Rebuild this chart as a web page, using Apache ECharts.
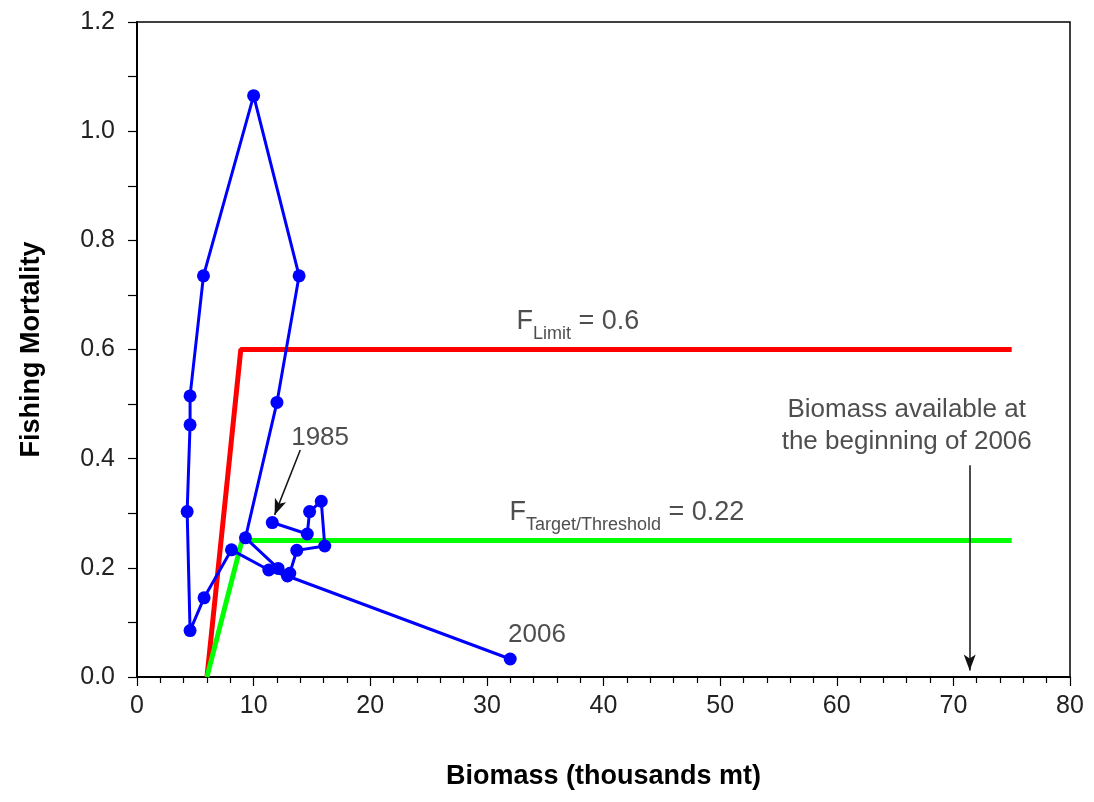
<!DOCTYPE html>
<html>
<head>
<meta charset="utf-8">
<title>Fishing Mortality vs Biomass</title>
<script src="https://cdn.jsdelivr.net/npm/echarts@6/dist/echarts.min.js"></script>
<style>
  html, body { margin: 0; padding: 0; background: #fff; }
  #chart { width: 1094px; height: 802px; }
</style>
</head>
<body>
<div id="chart"></div>
<script>
// biomass (thousands mt) and fishing mortality, 1985 -> 2006
const years = [1985, 1986, 1987, 1988, 1989, 1990, 1991, 1992, 1993, 1994, 1995,
  1996, 1997, 1998, 1999, 2000, 2001, 2002, 2003, 2004, 2005, 2006];
const biomass = [11.6, 14.6, 14.8, 15.8, 16.1, 13.7, 13.1, 12.1, 9.3, 12.0, 13.9,
  10.0, 5.7, 4.55, 4.55, 4.3, 4.55, 5.75, 8.1, 11.3, 12.9, 32.0];
const fMort = [0.283, 0.262, 0.303, 0.322, 0.240, 0.232, 0.190, 0.199, 0.255, 0.503, 0.735,
  1.065, 0.735, 0.515, 0.462, 0.303, 0.085, 0.145, 0.233, 0.196, 0.185, 0.033];

// control rule lines
const limitRule = [[6.0, 0], [8.9, 0.6], [75, 0.6]];
const targetRule = [[6.0, 0], [9.0, 0.25], [75, 0.25]];

// axis ticks
const xTicks = [0, 10, 20, 30, 40, 50, 60, 70, 80];
const yTicks = [0.0, 0.2, 0.4, 0.6, 0.8, 1.0, 1.2];

const bStart = 71.4; // biomass at beginning of 2006

const chart = echarts.init(document.getElementById('chart'));
const font = 'Arial, "Liberation Sans", sans-serif';

// subscript label styles
const subRich = {
  f: { fontFamily: font, fontSize: 27, color: '#222', verticalAlign: 'bottom' },
  s: { fontFamily: font, fontSize: 18, color: '#222', verticalAlign: 'bottom', padding: [0, 0, -8, 0] },
  e: { fontFamily: font, fontSize: 27, color: '#222', verticalAlign: 'bottom' },
};

const option = {
  animation: false,
  grid: {
    left: 137, right: 24, top: 22, bottom: 125,
    show: true, borderColor: '#000', borderWidth: 1.5, backgroundColor: '#fff',
  },
  xAxis: {
    type: 'value',
    min: xTicks[0],
    max: xTicks[xTicks.length - 1],
    interval: 10,
    name: 'Biomass (thousands mt)',
    nameLocation: 'middle',
    nameGap: 86,
    nameTextStyle: { fontFamily: font, fontSize: 27, fontWeight: 'bold', color: '#000' },
    axisLine: { lineStyle: { color: '#000', width: 2 } },
    axisTick: { length: 9, lineStyle: { color: '#000', width: 1.2 } },
    minorTick: { show: true, splitNumber: 5, length: 6, lineStyle: { color: '#000', width: 1.2 } },
    splitLine: { show: false },
    axisLabel: { fontFamily: font, fontSize: 25, color: '#222', margin: 17 },
  },
  yAxis: {
    type: 'value',
    min: yTicks[0],
    max: yTicks[yTicks.length - 1],
    interval: 0.2,
    name: 'Fishing Mortality',
    nameLocation: 'middle',
    nameGap: 92,
    nameTextStyle: { fontFamily: font, fontSize: 27, fontWeight: 'bold', color: '#000' },
    axisLine: { lineStyle: { color: '#000', width: 2 } },
    axisTick: { length: 9, lineStyle: { color: '#000', width: 1.2 } },
    minorTick: { show: true, splitNumber: 2, length: 9, lineStyle: { color: '#000', width: 1.2 } },
    splitLine: { show: false },
    axisLabel: {
      fontFamily: font, fontSize: 25, color: '#222', margin: 22,
      formatter: (v) => v.toFixed(1),
    },
  },
  series: [
    {
      name: 'FLimit',
      type: 'line',
      data: limitRule,
      symbol: 'none',
      lineStyle: { color: '#ff0000', width: 5 },
      z: 2,
    },
    {
      name: 'FTarget',
      type: 'line',
      data: targetRule,
      symbol: 'none',
      lineStyle: { color: '#00ff00', width: 5 },
      z: 2,
    },
    {
      name: 'Stock',
      type: 'line',
      data: biomass.map((b, i) => [b, fMort[i], years[i]]),
      symbol: 'circle',
      symbolSize: 13,
      itemStyle: { color: '#0000ff' },
      lineStyle: { color: '#0000ff', width: 3 },
      z: 3,
      markLine: {
        silent: true,
        symbol: ['none', 'arrow'],
        symbolSize: [9, 16],
        label: { show: false },
        lineStyle: { color: '#111', width: 1.5, type: 'solid' },
        data: [
          [{ coord: [14.0, 0.416] }, { coord: [11.8, 0.297] }],
          [{ coord: [bStart, 0.388] }, { coord: [bStart, 0.012] }],
        ],
      },
    },
    {
      name: 'labels',
      type: 'scatter',
      symbolSize: 0,
      silent: true,
      z: 5,
      label: {
        show: true,
        position: 'inside',
        fontFamily: font,
        fontSize: 26,
        color: '#222',
      },
      data: [
        { value: [15.7, 0.438], label: { formatter: '1985' } },
        { value: [34.3, 0.077], label: { formatter: '2006' } },
        {
          value: [66.0, 0.46],
          label: {
            formatter: 'Biomass available at\nthe beginning of 2006',
            lineHeight: 32, align: 'center',
          },
        },
        { value: [37.8, 0.652], label: { formatter: '{f|F}{s|Limit}{e| = 0.6}', rich: subRich } },
        { value: [42.0, 0.302], label: { formatter: '{f|F}{s|Target/Threshold}{e| = 0.22}', rich: subRich } },
      ],
    },
  ],
};

chart.setOption(option);
</script>
</body>
</html>
